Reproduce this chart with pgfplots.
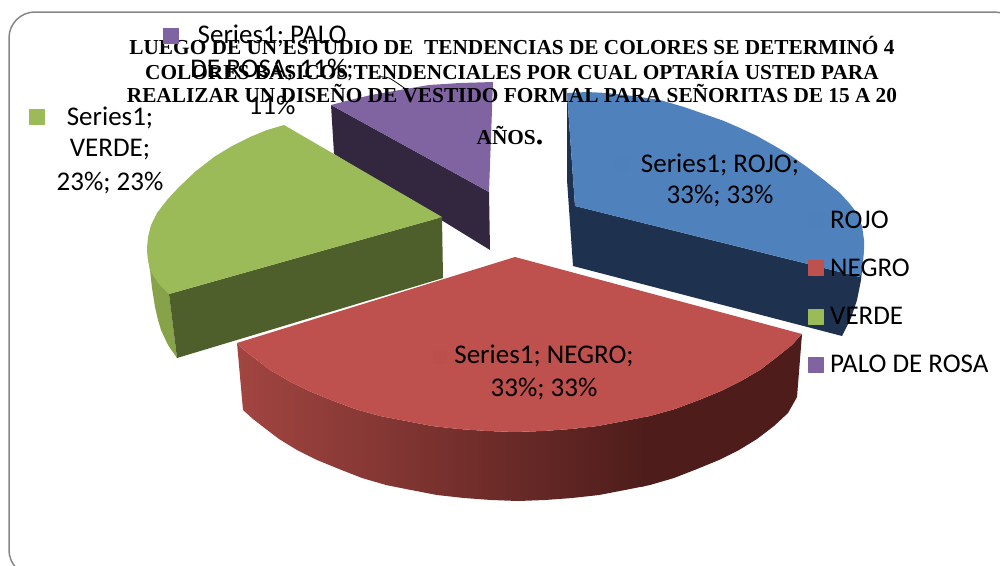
\documentclass[border=0pt]{standalone}
\usepackage{fontspec}
\setmainfont{Carlito}
\newfontfamily\tit{Liberation Serif}
\usepackage{pgfplots}
\pgfplotsset{compat=1.18}
\definecolor{blu}{HTML}{4F81BD}\definecolor{bluD}{HTML}{1E3250}
\definecolor{rd}{HTML}{BE504D}\definecolor{rdL}{HTML}{A24541}\definecolor{rdD}{HTML}{4E1D1B}
\definecolor{grn}{HTML}{9BBB59}\definecolor{grnD}{HTML}{4E5F2C}\definecolor{grnS}{HTML}{87A34A}
\definecolor{pur}{HTML}{8064A2}\definecolor{purD}{HTML}{33273F}
\definecolor{frm}{HTML}{868686}
\begin{document}
\begin{tikzpicture}
\begin{axis}[at={(0,0)},anchor=south west,scale only axis,width=1000pt,height=565pt,
 xmin=0,xmax=1000,ymin=0,ymax=565,y dir=reverse,axis lines=none,
 every axis plot post/.append style={line join=round}]
% frame
\addplot[frm,line width=1.5pt,rounded corners=26pt] coordinates {(1020,80)(1020,12)(9,12)(9,576)(1020,576)};
% purple
\addplot[fill=purD,draw=none] coordinates {(331,105)(489,192)(490,250)(334,154)} --cycle;
\addplot[fill=pur,draw=none] coordinates {(331,105)(350,100)(371,95)(400,90)(429,85)(460,83)(493,82)(489,192)} --cycle;
% green
\addplot[fill=grnS,draw=none] coordinates {(147,248)(148,259)(150,270)(152,288)(155,307)(158,320)(161,330)(168,345)(177,358)(169,294)} --cycle;
\addplot[fill=grnD,draw=none] coordinates {(442,217)(169,294)(177,358)(443,278)} --cycle;
\addplot[fill=grn,draw=none] coordinates {(442,217)(284,125)(267,130)(250,137)(232,146)(214,157)(196,171)(179,187)(167,200)(157,213)(151,225)(148,237)(147,248)(148,259)(150,270)(158,283)(169,294)} --cycle;
% blue
\addplot[fill=bluD,draw=none] coordinates {(567,93)(575,206)(860,277)(864,240)(863,260)(861,280)(857,300)(851,318)(842,336)(573,266)(567,180)} --cycle;
\addplot[fill=blu,draw=none] coordinates {(567,93)(587,92)(607,93)(633,96)(660,100)(684,107)(707,115)(724,121)(740,128)(757,136)(773,145)(790,155)(807,167)(824,180)(840,193)(849,203)(857,213)(862,226)(864,240)(864,250)(863,260)(862,269)(860,277)(575,206)} --cycle;
% red
\addplot[fill=rdD,draw=none] coordinates {(802,334)(792,345)(777,357)(760,370)(741,381)(721,391)(699,400)(675,409)(650,416)(640,418)(640,487)(650,485)(674,478)(697,469)(719,460)(739,450)(757,439)(774,426)(788,413)(797,397)} --cycle;
\addplot[shade,left color=rdL,right color=rdD,draw=none] coordinates {(237,343)(244,350)(253,357)(270,370)(289,381)(309,391)(331,400)(355,409)(380,416)(406,421)(432,426)(459,429)(487,431)(515,432)(543,431)(571,429)(598,426)(624,421)(645,417)(645,486)(625,490)(599,495)(572,498)(545,500)(518,501)(491,500)(464,498)(437,495)(411,490)(386,485)(362,478)(339,469)(317,460)(297,450)(279,439)(262,426)(253,419)(243,410)} --cycle;
\addplot[fill=rd,draw=none] coordinates {(515,257)(802,334)(792,345)(777,357)(760,370)(741,381)(721,391)(699,400)(675,409)(650,416)(624,421)(598,426)(571,429)(543,431)(515,432)(487,431)(459,429)(432,426)(406,421)(380,416)(355,409)(331,400)(309,391)(289,381)(270,370)(253,357)(244,350)(237,343)} --cycle;
% leader line
\addplot[black,line width=0.8pt,smooth] coordinates {(377,77)(389,78)(407,90)};
% data-label keys
\addplot[only marks,mark=square*,mark size=7.5pt,color=pur] coordinates {(170.5,36)};
\addplot[only marks,mark=square*,mark size=7.5pt,color=grn] coordinates {(36.5,116.5)};
\addplot[only marks,mark=square*,mark size=7.5pt,color=blu!99!black] coordinates {(620.5,162.5)};
\addplot[only marks,mark=square*,mark size=6.5pt,color=rd!99!black] coordinates {(440,356.5)};
% legend keys
\addplot[only marks,mark=square*,mark size=7.5pt,color=blu!99!black] coordinates {(815.5,219.5)};
\addplot[only marks,mark=square*,mark size=7.5pt,color=rd] coordinates {(815.5,267.5)};
\addplot[only marks,mark=square*,mark size=7.5pt,color=grn] coordinates {(815.5,316.5)};
\addplot[only marks,mark=square*,mark size=7.5pt,color=pur] coordinates {(815.5,364.5)};
% data labels
\def\lab{\fontsize{27}{27}\selectfont}
\node[font=\lab] at (axis cs:272,36) {Series1; PALO};
\node[font=\lab] at (axis cs:272,70) {DE ROSA; 11\%;};
\node[font=\lab] at (axis cs:272,105) {11\%};
\node[font=\lab] at (axis cs:110,118) {Series1;};
\node[font=\lab] at (axis cs:110,150) {VERDE;};
\node[font=\lab] at (axis cs:110,183) {23\%; 23\%};
\node[font=\lab] at (axis cs:720,165) {Series1; ROJO;};
\node[font=\lab] at (axis cs:720,196) {33\%; 33\%};
\node[font=\lab] at (axis cs:544,356) {Series1; NEGRO;};
\node[font=\lab] at (axis cs:544,389) {33\%; 33\%};
% legend text
\node[font=\lab,anchor=west,inner sep=0pt] at (axis cs:830,220) {ROJO};
\node[font=\lab,anchor=west,inner sep=0pt] at (axis cs:830,268) {NEGRO};
\node[font=\lab,anchor=west,inner sep=0pt] at (axis cs:830,316) {VERDE};
\node[font=\lab,anchor=west,inner sep=0pt] at (axis cs:830,364) {PALO DE ROSA};
% title
\def\ttl{\tit\bfseries\fontsize{21.3}{21.3}\selectfont}
\node[font=\ttl] at (axis cs:512,45) {LUEGO DE UN ESTUDIO DE\ \ TENDENCIAS DE COLORES SE DETERMINÓ 4};
\node[font=\ttl] at (axis cs:512,70) {COLORES BÁSICOS TENDENCIALES POR CUAL OPTARÍA USTED PARA};
\node[font=\ttl] at (axis cs:512,94) {REALIZAR UN DISEÑO DE VESTIDO FORMAL PARA SEÑORITAS DE 15 A 20};
\node[font=\ttl] at (axis cs:510,136) {AÑOS\textbf{\fontsize{30}{30}\selectfont .}};
\end{axis}
\pgfresetboundingbox
\path[use as bounding box] (0,0) rectangle (1000pt,565pt);
\end{tikzpicture}
\end{document}
